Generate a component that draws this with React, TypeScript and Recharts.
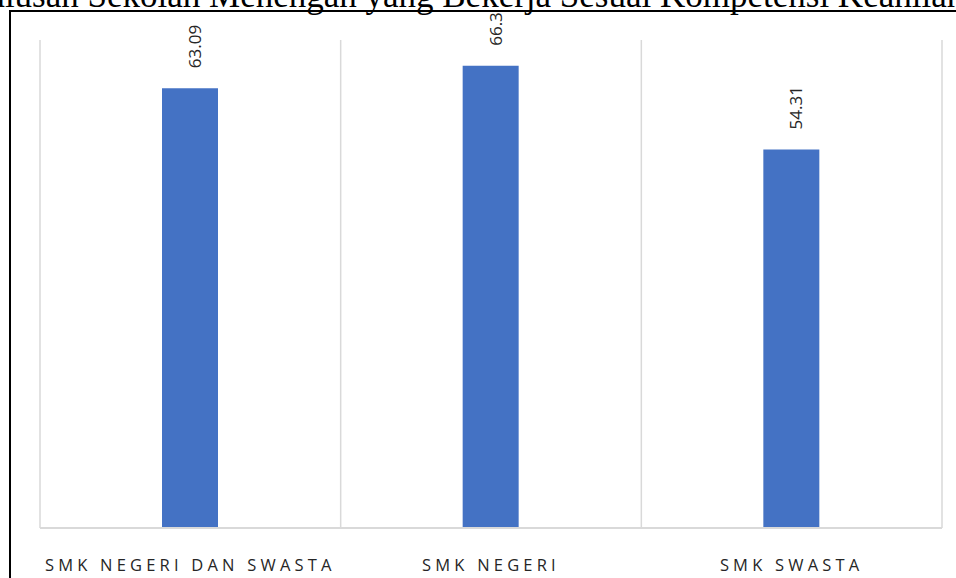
import { BarChart, Bar, XAxis, YAxis, CartesianGrid, LabelList } from 'recharts';

const categories = ['SMK NEGERI DAN SWASTA', 'SMK NEGERI', 'SMK SWASTA'];
const values = [63.09, 66.3, 54.31];
const valueLabels = ['63.09', '66.3', '54.31'];

const data = categories.map((name, i) => ({ name, value: values[i], label: valueLabels[i] }));

const CategoryTick = (props: any) => {
  const { x, y, payload } = props;
  return (
    <text
      x={x}
      y={y + 35}
      textAnchor="middle"
      fill="#262626"
      fontSize={16.5}
      fontFamily="'Open Sans', sans-serif"
      letterSpacing={4.2}
    >
      {payload.value}
    </text>
  );
};

const RotatedLabel = (props: any) => {
  const { x, y, width, value } = props;
  const bx = x + width / 2 + 11;
  const ty = y - 20;
  return (
    <text
      x={bx}
      y={ty}
      transform={`rotate(-90 ${bx} ${ty})`}
      textAnchor="start"
      fill="#262626"
      fontSize={17}
      fontFamily="'Open Sans', sans-serif"
    >
      {value}
    </text>
  );
};

const App = () => {
  return (
    <div
      style={{
        position: 'fixed',
        left: 0,
        top: 0,
        width: 956,
        height: 578,
        overflow: 'hidden',
        background: '#fff',
      }}
    >
      <div
        style={{
          position: 'absolute',
          left: -34,
          top: -22,
          whiteSpace: 'nowrap',
          fontFamily: "'Liberation Serif', serif",
          fontSize: 35,
          lineHeight: 1,
          color: '#000',
        }}
      >
        Lulusan Sekolah Menengah yang Bekerja Sesuai Kompetensi Keahlian
      </div>
      <div
        style={{
          position: 'absolute',
          left: 9,
          top: 10,
          width: 1200,
          height: 1200,
          border: '2px solid #000',
        }}
      />
      <div style={{ position: 'absolute', left: 0, top: 0 }}>
        <BarChart
          width={956}
          height={578}
          data={data}
          margin={{ top: 40, right: 14, left: 40, bottom: 0 }}
        >
          <CartesianGrid
            horizontal={false}
            stroke="#d9d9d9"
            strokeWidth={1.5}
            verticalCoordinatesGenerator={({ offset }: any) =>
              Array.from({ length: categories.length + 1 }, (_, i) => offset.left + (offset.width * i) / categories.length)
            }
          />
          <XAxis
            dataKey="name"
            height={50}
            tickLine={false}
            axisLine={{ stroke: '#d9d9d9', strokeWidth: 2 }}
            tick={<CategoryTick />}
            interval={0}
          />
          <YAxis hide domain={[0, 70]} />
          <Bar dataKey="value" fill="#4472c4" barSize={56} isAnimationActive={false}>
            <LabelList dataKey="label" content={<RotatedLabel />} />
          </Bar>
        </BarChart>
      </div>
    </div>
  );
};

export default App;
